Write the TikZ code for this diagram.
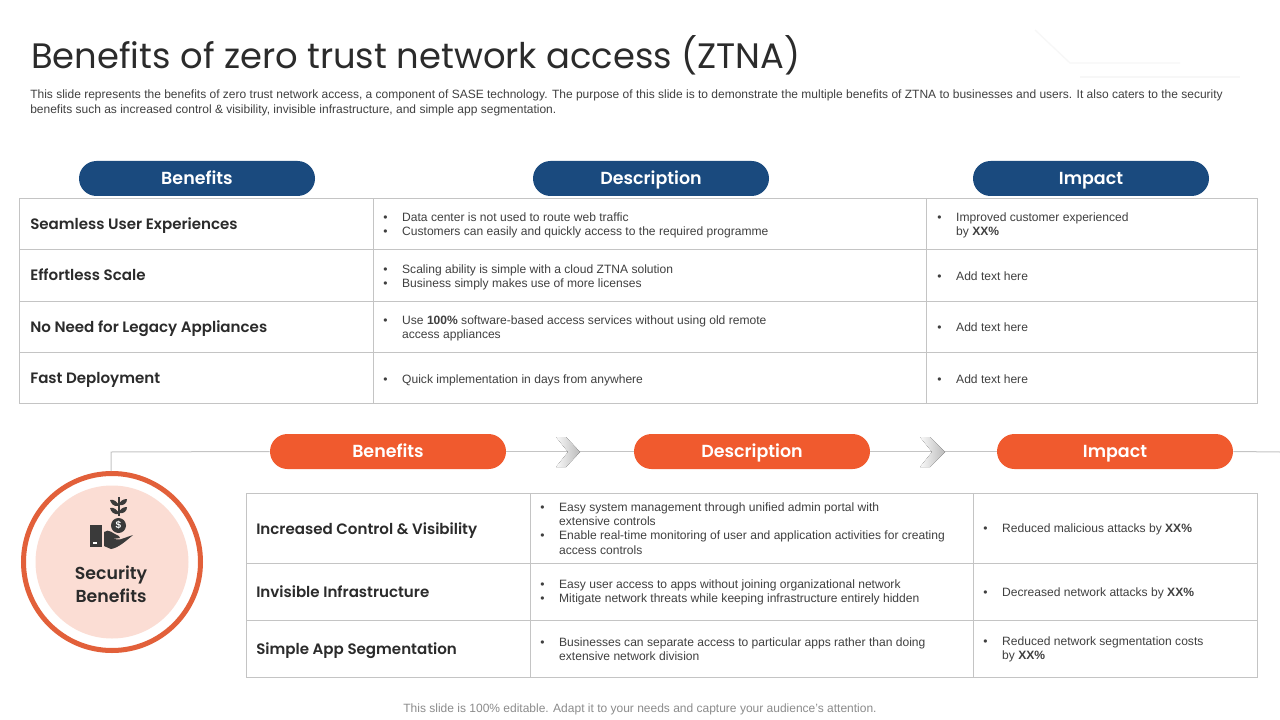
\documentclass[tikz,border=0pt]{standalone}
\usepackage{fontspec}
\setmainfont{Liberation Sans}
\newfontfamily\headfont{Poppins}
\newfontfamily\headmed{Poppins SemiBold}
\usetikzlibrary{calc}
\definecolor{navy}{HTML}{1A4A7E}
\definecolor{orng}{HTML}{F05A2E}
\definecolor{ringc}{HTML}{E2603A}
\definecolor{pinkc}{HTML}{FBDDD4}
\definecolor{gridc}{HTML}{C4C4C4}
\definecolor{inkc}{HTML}{2B2B2B}
\definecolor{bodyc}{HTML}{404040}
\definecolor{iconc}{HTML}{3A3A3A}
\tikzset{
  pill/.style={rounded corners=17.5*0.75pt,minimum width=236*0.75pt,minimum height=35*0.75pt,inner sep=0pt,text=white,text height=9.4pt,text depth=0pt,font=\headmed\fontsize{13.1}{16}\selectfont},
  navypill/.style={pill,fill=navy},
  orngpill/.style={pill,fill=orng},
  rowhead/.style={anchor=west,inner sep=0pt,text=inkc,text height=8pt,text depth=0pt,font=\headmed\fontsize{11.3}{15}\selectfont},
  cell/.style={anchor=west,inner sep=0pt,text=bodyc,font=\fontsize{9.05}{10.6}\selectfont,align=left},
  grid/.style={draw=gridc,line width=0.75pt},
  conn/.style={draw=gridc,line width=0.75pt},
  chev/.style={left color=gridc!10,right color=gridc!95!black,draw=none},
}
\newcommand{\bl}{\makebox[14.2pt][l]{\textbullet}}
\newcommand{\ind}{\hspace*{14.2pt}}
\begin{document}
\begin{tikzpicture}[x=0.75pt,y=-0.75pt]
\useasboundingbox (0,0) rectangle (1280,720);
\fill[white] (0,0) rectangle (1280,720);
% faint decoration top right
\draw[black!3,line width=1pt] (1035,30) -- (1070,63) -- (1180,63);
\draw[black!3,line width=1pt] (1080,77) -- (1240,77);
% title
\node[anchor=west,inner sep=0pt,text=inkc,font=\headfont\fontsize{26.5}{32}\selectfont] (title) at (31,55) {Benefits of zero trust network access (ZTNA)};
\node[anchor=north west,inner sep=0pt,text=bodyc,font=\fontsize{9}{10.6}\selectfont,align=left] (intro) at (30,90) {This slide represents the benefits of zero trust network access, a component of SASE technology. The purpose of this slide is to demonstrate the multiple benefits of ZTNA to businesses and users. It also caters to the security\\benefits such as increased control \& visibility, invisible infrastructure, and simple app segmentation.};
% top table
\draw[grid] (19.5,198.5) rectangle (1257,403.5);
\foreach \yy in {249.5,301,352.5} \draw[grid] (19.5,\yy) -- (1257,\yy);
\foreach \xx in {373.5,926.5} \draw[grid] (\xx,198.5) -- (\xx,403.5);
\node[navypill] (b1) at (197,178.5) {Benefits};
\node[navypill] (d1) at (651,178.5) {Description};
\node[navypill] (i1) at (1091,178.5) {Impact};
\node[rowhead] (r1) at (30,224.5) {Seamless User Experiences};
\node[rowhead] (r2) at (30,275.5) {Effortless  Scale};
\node[rowhead] (r3) at (30,327.5) {No Need for Legacy Appliances};
\node[rowhead] (r4) at (30,378.5) {Fast Deployment};
\node[cell] (c11) at (383,225) {\bl Data center is not used to route web traffic\\\bl Customers can easily and quickly access to the required programme};
\node[cell] (c21) at (383,277) {\bl Scaling ability is simple with a cloud ZTNA solution\\\bl Business simply makes use of more licenses};
\node[cell] (c31) at (383,328) {\bl Use \textbf{100\%} software-based access services without using old remote\\\ind access appliances};
\node[cell] (c41) at (383,380) {\bl Quick implementation in days from anywhere};
\node[cell] (c12) at (937,225) {\bl Improved customer experienced\\\ind by \textbf{XX\%}};
\node[cell] (c22) at (937,276) {\bl Add text here};
\node[cell] (c32) at (937,327) {\bl Add text here};
\node[cell] (c42) at (937,379) {\bl Add text here};
% bottom flow
\coordinate (corner) at (111,452);
\coordinate (edge) at (1280,452);
\node[orngpill] (b2) at (388,451.5) {Benefits};
\node[orngpill] (d2) at (752,451.5) {Description};
\node[orngpill] (i2) at (1115,451.5) {Impact};
\node[circle,draw=ringc,line width=3.75pt,minimum size=177*0.75pt,inner sep=0pt] (ring) at (112,562) {};
\node[circle,fill=pinkc,minimum size=153*0.75pt,inner sep=0pt] (disc) at (112,562) {};
\draw[conn] (ring.north -| corner) -- (corner) -- (b2.west);
\draw[conn] (b2.east) -- (d2.west);
\draw[conn] (d2.east) -- (i2.west);
\draw[conn] (i2.east) -- (edge);
\fill[chev] (556,437) -- (566,437) -- (580,452) -- (566,467) -- (556,467) -- (568,452) -- cycle;
\fill[chev] (920,437) -- (930,437) -- (945,452) -- (930,467) -- (920,467) -- (932,452) -- cycle;
% icon
\fill[iconc] (90,525) rectangle (102,547);
\fill[white] (93,541.5) rectangle (97,544);
\fill[iconc] (104,532) .. controls (109,528) and (113,534) .. (119,536) -- (120,538) -- (112,539) -- (120,539.5) -- (133,535) .. controls (126,541) and (118,548) .. (111,549) -- (104,546) -- cycle;
\draw[iconc,line width=1.1pt] (119,497) -- (119,516);
\fill[iconc] (119,506) .. controls (113,507) and (111,503) .. (110,500) .. controls (114,499) and (118,502) .. (119,506) -- cycle;
\fill[iconc] (119,514) .. controls (114,515) and (111,512) .. (110,508) .. controls (114,507) and (118,510) .. (119,514) -- cycle;
\fill[iconc] (119,505) .. controls (120,501) and (123,499) .. (127,499) .. controls (127,503) and (124,506) .. (119,505) -- cycle;
\fill[iconc] (119,513) .. controls (120,509) and (123,507) .. (127,507) .. controls (127,511) and (124,514) .. (119,513) -- cycle;
\node[circle,fill=iconc,minimum size=15*0.75pt,inner sep=0pt,text=white,font=\fontsize{7.5}{8}\selectfont\bfseries] (coin) at (118.5,525.5) {\$};
\node[inner sep=0pt,align=center,text=inkc,font=\headmed\fontsize{13}{17}\selectfont] (sec) at (111,584) {Security\\Benefits};
% bottom table
\draw[grid] (246.5,493) rectangle (1257,677);
\foreach \yy in {563.5,620.5} \draw[grid] (246.5,\yy) -- (1257,\yy);
\foreach \xx in {530.5,973.5} \draw[grid] (\xx,493) -- (\xx,677);
\node[rowhead] (s1) at (256,529.5) {Increased Control \& Visibility};
\node[rowhead] (s2) at (256,592.5) {Invisible Infrastructure};
\node[rowhead] (s3) at (256,649.5) {Simple App Segmentation};
\node[cell] (t11) at (540,528.5) {\bl Easy system management through unified admin portal with\\\ind extensive controls\\\bl Enable real-time monitoring of user and application activities for creating\\\ind access controls};
\node[cell] (t21) at (540,592.5) {\bl Easy user access to apps without joining organizational network\\\bl Mitigate network threats while keeping infrastructure entirely hidden};
\node[cell] (t31) at (540,649) {\bl Businesses can separate access to particular apps rather than doing\\\ind extensive network division};
\node[cell] (t12) at (983,529.5) {\bl Reduced malicious attacks by \textbf{XX\%}};
\node[cell] (t22) at (983,593) {\bl Decreased network attacks by \textbf{XX\%}};
\node[cell] (t32) at (983,649) {\bl Reduced network segmentation costs\\\ind by \textbf{XX\%}};
\node[inner sep=0pt,text=black!45,font=\fontsize{9}{11}\selectfont] (foot) at (640,709) {This slide is 100\% editable. Adapt it to your needs and capture your audience's attention.};
\end{tikzpicture}
\end{document}
